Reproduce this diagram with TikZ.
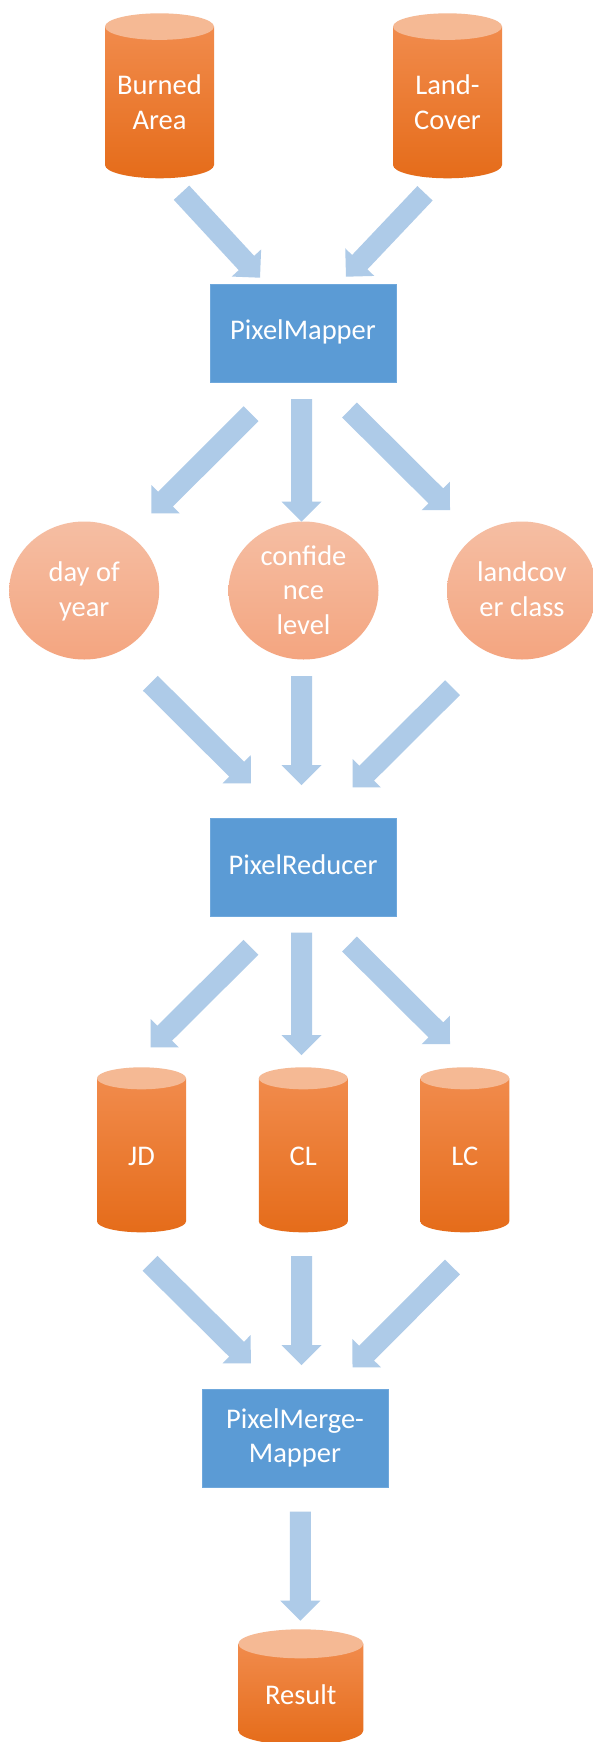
\documentclass[tikz,border=0pt]{standalone}
\usepackage{fontspec}
\setmainfont{Carlito}
\usetikzlibrary{calc,shapes.geometric}
\definecolor{flowc}{HTML}{AECBE8}
\definecolor{boxc}{HTML}{5B9BD5}
\definecolor{boxline}{HTML}{6FA8DC}
\definecolor{cylA}{HTML}{F18B4C}
\definecolor{cylB}{HTML}{F37E2C}
\definecolor{cylC}{HTML}{E56C1A}
\definecolor{cylT}{HTML}{F5B994}
\definecolor{bubA}{HTML}{F5BEA3}
\definecolor{bubB}{HTML}{F4A580}
\tikzset{
  lbl/.style={text=white, font=\fontsize{28.5}{34.5}\selectfont, align=center, inner sep=0pt},
  procbox/.style={lbl, draw=boxline, line width=1pt, fill=boxc, minimum width=186pt, minimum height=98pt},
  bubble/.style={ellipse, inner sep=0pt, top color=bubA, bottom color=bubB, minimum width=150pt, minimum height=138pt},
}
% name, cx, top, bottom, half width, ry, text y, text
\newcommand{\dbcyl}[8]{%
  \shade[top color=cylA, middle color=cylB, bottom color=cylC]
    ({#2-#5},{#3+#6}) -- ({#2-#5},{#4-#6})
    arc[start angle=180,end angle=360,x radius=#5pt,y radius=#6pt]
    -- ({#2+#5},{#3+#6}) -- cycle;
  \fill[cylT] (#2,{#3+#6}) ellipse[x radius=#5pt,y radius=#6pt];
  \node[lbl] (#1) at (#2,#7) {#8};
}
\newcommand{\flow}[2]{%
  \coordinate (fh) at ($(#2)!20pt!(#1)$);
  \fill[flowc] ($(#1)!10.5pt!90:(#2)$) -- ($(fh)!10.5pt!90:(#2)$) -- ($(fh)!20pt!90:(#2)$)
    -- (#2) -- ($(fh)!20pt!-90:(#2)$) -- ($(fh)!10.5pt!-90:(#2)$) -- ($(#1)!10.5pt!-90:(#2)$) -- cycle;
}
\begin{document}
\begin{tikzpicture}[x=1pt,y=-1pt]
\fill[white] (0,0) rectangle (593,1742);
\useasboundingbox (0,0) rectangle (593,1742);

% top cylinders
\dbcyl{ba}{159.5}{13.3}{178.3}{54.5}{13.3}{105.3}{\strut Burned\\Area\strut}
\dbcyl{lc}{447.5}{13.3}{178.3}{54.5}{13.3}{105.3}{\strut Land-\\Cover\strut}

% PixelMapper
\node[procbox] (pm) at (303,333) {\strut PixelMapper\strut};

% ellipses
\node[bubble] (doy) at (84.2,590.5) {};
\node[lbl] (doyt) at (84.2,592.3) {\strut day of\\year\strut};
\node[bubble] (cfl) at (303.5,590.5) {};
\node[lbl] (cflt) at (303.5,592.7) {\strut confide\\nce\\level\strut};
\node[bubble] (lcc) at (522,590.5) {};
\node[lbl] (lcct) at (522,592.3) {\strut landcov\\er class\strut};

% PixelReducer
\node[procbox] (pr) at (303,867.5) {\strut PixelReducer\strut};

% middle cylinders
\dbcyl{jd}{141.5}{1067.3}{1232.3}{44.5}{11}{1158.1}{\strut JD\strut}
\dbcyl{cl}{303.3}{1067.3}{1232.3}{44.5}{11}{1158.1}{\strut CL\strut}
\dbcyl{lcd}{464.8}{1067.3}{1232.3}{44.5}{11}{1158.1}{\strut LC\strut}

% PixelMerge-Mapper
\node[procbox] (pmm) at (295,1438.5) {\strut PixelMerge-\\Mapper\strut};

% Result
\dbcyl{res}{300.8}{1629.3}{1745}{62.5}{14.5}{1698}{\strut Result\strut}

% arrows
\coordinate (t1) at (181.5,192.7);  \coordinate (h1) at (260,277.7);
\coordinate (t2) at (425,193.3);    \coordinate (h2) at (346,276.7);
\coordinate (t3) at (251,413.7);    \coordinate (h3) at (151.3,513.3);
\coordinate (t4) at (301.5,399);    \coordinate (h4) at (301.5,521.7);
\coordinate (t5) at (349.5,410);    \coordinate (h5) at (450,510);
\coordinate (t6) at (150.4,683.3);  \coordinate (h6) at (250.8,783.3);
\coordinate (t7) at (301.5,676);    \coordinate (h7) at (301.5,785);
\coordinate (t8) at (452.5,687.7);  \coordinate (h8) at (352.5,787.3);
\coordinate (t9) at (251,947.3);    \coordinate (h9) at (150.5,1047.3);
\coordinate (t10) at (301.5,932.7); \coordinate (h10) at (301.5,1055);
\coordinate (t11) at (349.5,944);   \coordinate (h11) at (450,1044);
\coordinate (t12) at (150,1263.3);  \coordinate (h12) at (250.8,1363.3);
\coordinate (t13) at (301.5,1256);  \coordinate (h13) at (301.5,1365);
\coordinate (t14) at (452.5,1267);  \coordinate (h14) at (352.5,1367.3);
\coordinate (t15) at (300.3,1511.7); \coordinate (h15) at (300.3,1620.7);
\flow{t1}{h1} \flow{t2}{h2} \flow{t3}{h3} \flow{t4}{h4} \flow{t5}{h5}
\flow{t6}{h6} \flow{t7}{h7} \flow{t8}{h8} \flow{t9}{h9} \flow{t10}{h10}
\flow{t11}{h11} \flow{t12}{h12} \flow{t13}{h13} \flow{t14}{h14} \flow{t15}{h15}
\end{tikzpicture}
\end{document}
